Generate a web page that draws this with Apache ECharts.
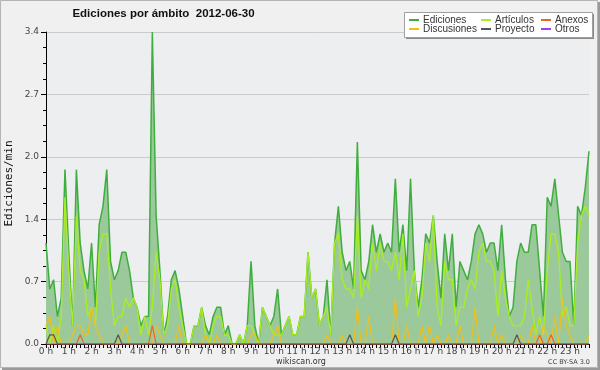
<!DOCTYPE html>
<html>
<head>
<meta charset="utf-8">
<script src="https://cdn.jsdelivr.net/npm/echarts@6/dist/echarts.min.js"></script>
<style>html,body{margin:0;padding:0;background:#f0f0f0}#c{width:600px;height:370px}</style>
</head>
<body>
<div id="c"></div>
<script>
// Hour tick labels (one every 6 ten-minute slots)
const hourLabels = ['0 h','1 h','2 h','3 h','4 h','5 h','6 h','7 h','8 h','9 h','10 h','11 h','12 h','13 h','14 h','15 h','16 h','17 h','18 h','19 h','20 h','21 h','22 h','23 h'];
// 10-minute slots of the day
const slots = [];
for (let h = 0; h < 24; h++) for (let m = 0; m < 60; m += 10) slots.push(h + ':' + (m < 10 ? '0' + m : m));

const yTicks = ['0.0','0.7','1.4','2.0','2.7','3.4'];

const ediciones = [
1.1,0.6,0.7,0.3,0.5,1.9,1.0,0.2,1.9,1.1,0.8,0.6,1.1,0.4,1.3,1.5,1.9,0.9,0.7,0.8,1.0,1.0,0.8,0.5,
0.4,0.2,0.3,0.3,3.4,1.4,0.8,0.1,0.3,0.7,0.8,0.6,0.3,0.0,0.0,0.2,0.2,0.4,0.2,0.1,0.3,0.4,0.4,0.1,
0.2,0.0,0.0,0.1,0.0,0.2,0.9,0.2,0.0,0.4,0.3,0.2,0.3,0.6,0.1,0.2,0.3,0.1,0.1,0.3,0.3,1.0,0.5,0.6,
0.2,0.3,0.7,0.1,1.1,1.5,1.0,0.8,0.9,0.6,2.2,0.8,0.7,0.9,1.3,1.0,1.2,1.0,1.1,1.0,1.8,1.0,1.3,0.8,
1.8,0.8,0.4,0.7,1.2,1.1,1.4,0.9,0.5,1.2,0.8,1.2,0.4,0.9,0.8,0.7,0.9,1.2,1.3,1.2,1.0,1.1,1.1,0.8,
1.3,0.7,0.3,0.4,0.9,1.1,1.0,1.0,1.3,1.3,0.8,0.3,1.6,1.5,1.8,1.4,1.0,0.9,0.9,0.2,1.5,1.4,1.7,2.1];

const articulos = [
0.2,0.0,0.2,0.0,0.3,1.6,0.8,0.2,1.4,0.8,0.7,0.3,0.4,0.2,1.0,1.2,1.2,0.6,0.2,0.3,0.3,0.5,0.4,0.5,
0.4,0.1,0.3,0.1,0.4,1.0,0.7,0.1,0.2,0.6,0.7,0.4,0.2,0.0,0.0,0.2,0.2,0.4,0.1,0.0,0.2,0.3,0.3,0.1,
0.1,0.0,0.0,0.1,0.0,0.2,0.2,0.1,0.0,0.4,0.3,0.2,0.1,0.1,0.1,0.2,0.3,0.1,0.1,0.3,0.3,1.0,0.5,0.6,
0.2,0.3,0.4,0.1,1.1,1.2,0.7,0.6,0.6,0.5,1.4,0.5,0.7,0.6,1.1,0.8,1.1,0.9,0.9,0.8,1.0,0.7,1.2,0.4,
0.6,0.8,0.3,0.5,1.1,0.9,1.4,0.4,0.2,0.9,0.7,0.7,0.2,0.4,0.4,0.6,0.7,0.6,1.0,1.1,0.9,0.9,0.8,0.3,
0.8,0.5,0.3,0.2,0.2,0.2,0.3,0.7,0.4,0.1,0.3,0.1,0.8,1.2,1.2,1.0,0.3,0.4,0.2,0.2,1.1,1.4,1.5,1.4];

const anexos = [
0,0,0,0,0,0,0,0,0,0.1,0,0,0,0,0,0,0,0,0,0,0,0,0,0,
0,0,0,0,0.2,0,0,0,0,0,0,0,0,0,0,0,0,0,0,0,0,0,0,0,
0,0,0,0,0,0,0,0,0,0,0,0,0,0,0,0,0,0,0,0,0,0,0,0,
0,0,0,0,0,0,0,0,0,0,0,0,0,0,0,0,0,0,0,0,0,0,0,0,
0,0,0,0,0,0,0,0,0,0,0,0,0,0,0,0,0,0,0,0,0,0,0,0,
0,0,0,0,0,0,0,0,0,0,0.1,0,0,0.1,0,0,0,0,0,0,0,0,0,0];

const discusiones = [
0.2,0.3,0,0.2,0,0,0,0.1,0.2,0.2,0.1,0.1,0.4,0.2,0.1,0,0,0,0,0,0.1,0.2,0,0,
0,0,0,0,0,0.2,0.1,0,0,0,0,0.2,0,0,0,0,0,0,0.1,0,0,0.1,0,0,
0,0,0,0,0,0,0.1,0.1,0,0,0,0,0.1,0.2,0,0,0,0,0,0,0,0,0,0,
0,0,0.1,0,0,0,0.1,0,0,0,0.4,0,0,0.3,0,0,0,0,0,0,0.5,0,0,0.2,
0,0,0,0.2,0,0.2,0,0.1,0,0,0.1,0,0,0.2,0,0,0,0.4,0,0,0,0,0.2,0,
0.1,0,0,0,0,0.1,0,0,0.2,0,0,0.2,0.1,0,0.3,0,0.5,0.2,0.1,0,0,0,0,0.1];

const proyecto = [
0,0.1,0.1,0,0,0,0,0,0,0,0,0,0,0,0,0,0,0,0,0.1,0,0,0,0,
0,0,0,0,0,0,0,0,0,0,0,0,0,0,0,0,0,0,0,0,0,0,0,0,
0,0,0,0,0,0,0,0,0,0,0,0,0,0,0,0,0,0,0,0,0,0,0,0,
0,0,0,0,0,0,0,0,0.1,0,0,0,0,0,0,0,0,0,0,0,0.1,0,0,0,
0,0,0,0,0,0,0,0,0,0,0,0,0,0,0,0,0,0,0,0,0,0,0,0,
0,0,0,0,0.1,0,0,0,0,0,0,0,0,0,0,0,0,0,0,0,0,0,0,0];

const otros = new Array(144).fill(0);

const colors = {
  Ediciones: '#3fae3f',
  'Artículos': '#aaee22',
  Anexos: '#f0622a',
  Discusiones: '#f0bf18',
  Proyecto: '#555555',
  Otros: '#9a40f0'
};

function line(name, data, width, extra) {
  return Object.assign({
    name: name, type: 'line', data: data, showSymbol: false, symbol: 'none',
    color: colors[name], lineStyle: { width: width, color: colors[name] },
    itemStyle: { color: colors[name] }, silent: true
  }, extra || {});
}

function leg(name, left, top) {
  return {
    data: [name], left: left, top: top, padding: 0, itemGap: 0,
    itemWidth: 10, itemHeight: 2, icon: 'rect', selectedMode: false,
    textStyle: { fontSize: 10, fontFamily: 'Liberation Sans', color: '#333', padding: [0,0,0,-1] }
  };
}

const chart = echarts.init(document.getElementById('c'), null, { renderer: 'canvas' });
chart.setOption({
  animation: false,
  backgroundColor: '#f0f0f0',
  grid: { left: 46, right: 11, top: 32, bottom: 26, show: true, backgroundColor: '#eceef0', borderWidth: 0 },
  legend: [
    leg('Ediciones', 409, 15), leg('Artículos', 481, 15), leg('Anexos', 541, 15),
    leg('Discusiones', 409, 24), leg('Proyecto', 481, 24), leg('Otros', 541, 24)
  ],
  xAxis: {
    type: 'category', data: slots, boundaryGap: false,
    axisLine: { lineStyle: { color: '#000', width: 1 } },
    axisTick: { interval: 0, length: 4, lineStyle: { color: '#000' } },
    axisLabel: { interval: 5, margin: 3, fontSize: 9, fontFamily: 'DejaVu Sans', color: '#444',
      formatter: function (v, i) { return hourLabels[Math.round(i / 6)]; } },
    splitLine: { show: false }
  },
  yAxis: {
    type: 'value', min: 0, max: 3.4, interval: 0.68,
    axisLine: { show: true, lineStyle: { color: '#000' } },
    axisTick: { show: true, length: 5, lineStyle: { color: '#000' } },
    minorTick: { show: true, splitNumber: 4, length: 3, lineStyle: { color: '#000' } },
    axisLabel: { margin: 7, fontSize: 9, fontFamily: 'DejaVu Sans', color: '#444',
      formatter: function (v) { return yTicks[Math.round(v / 0.68)]; } },
    splitLine: { show: true, lineStyle: { color: '#cbcbcb', width: 1 } }
  },
  graphic: [
    { type: 'rect', z: -10, silent: true, shape: { x: 0.5, y: 0.5, width: 597, height: 367 }, style: { fill: null, stroke: '#b4b4b4', lineWidth: 1 } },
    { type: 'rect', z: -10, silent: true, shape: { x: 598, y: 2, width: 2, height: 368 }, style: { fill: '#9a9a9a' } },
    { type: 'rect', z: -10, silent: true, shape: { x: 2, y: 368, width: 598, height: 2 }, style: { fill: '#9a9a9a' } },
    { type: 'rect', z: 1, silent: true, shape: { x: 406, y: 14, width: 188, height: 25 }, style: { fill: '#8a8a8a' } },
    { type: 'rect', z: 2, silent: true, shape: { x: 404.5, y: 12.5, width: 188, height: 25 }, style: { fill: '#ffffff', stroke: '#a0a0a0', lineWidth: 1 } },
    { type: 'text', z: 5, silent: true, x: 163.5, y: 13.5, style: { text: 'Ediciones por ámbito  2012-06-30', font: 'bold 11.5px "Liberation Sans"', fill: '#111', align: 'center', verticalAlign: 'middle' } },
    { type: 'text', z: 5, silent: true, x: 9.5, y: 183.5, rotation: Math.PI / 2, style: { text: 'Ediciones/min', font: '11px "DejaVu Sans Mono"', fill: '#111', align: 'center', verticalAlign: 'middle' } },
    { type: 'text', z: 5, silent: true, x: 301, y: 361.5, style: { text: 'wikiscan.org', font: '8px "DejaVu Sans"', fill: '#333', align: 'center', verticalAlign: 'middle' } },
    { type: 'text', z: 5, silent: true, x: 590, y: 362.5, style: { text: 'CC BY-SA 3.0', font: '6.5px "DejaVu Sans"', fill: '#444', align: 'right', verticalAlign: 'middle' } }
  ],
  series: [
    line('Ediciones', ediciones, 1.5, { areaStyle: { color: '#9cc99c', opacity: 1 }, z: 2 }),
    line('Artículos', articulos, 1.3, { z: 3 }),
    line('Anexos', anexos, 1.2, { z: 5 }),
    line('Discusiones', discusiones, 1.2, { z: 4 }),
    line('Proyecto', proyecto, 1.2, { z: 6 }),
    line('Otros', otros, 1.2, { z: 1 })
  ]
});
</script>
</body>
</html>
